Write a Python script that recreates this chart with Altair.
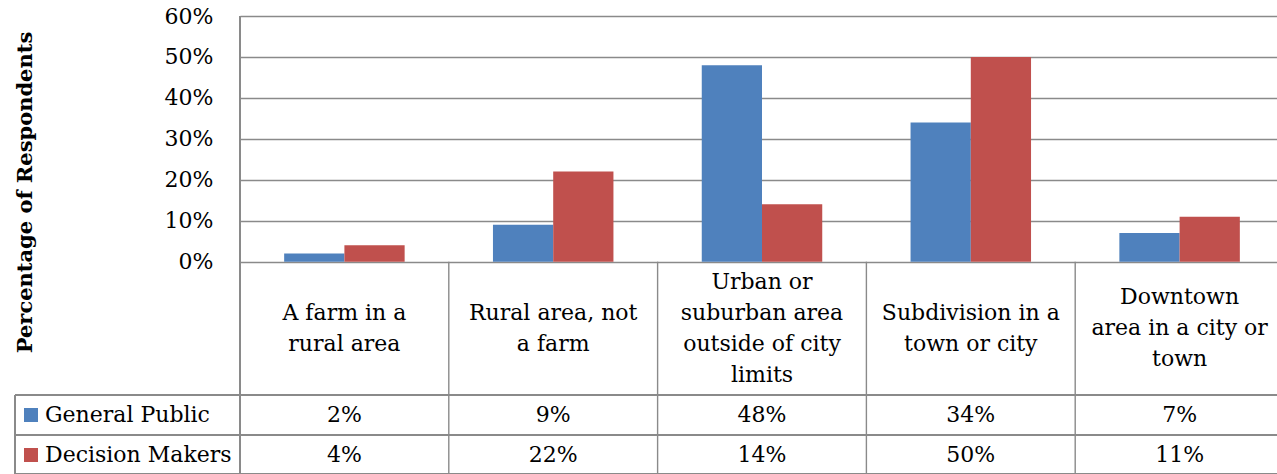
import altair as alt
import pandas as pd

# Chart values
categories = [
    "A farm in a\nrural area",
    "Rural area, not\na farm",
    "Urban or\nsuburban area\noutside of city\nlimits",
    "Subdivision in a\ntown or city",
    "Downtown\narea in a city or\ntown",
]
series = ["General Public", "Decision Makers"]
general_public = [0.02, 0.09, 0.48, 0.34, 0.07]
decision_makers = [0.04, 0.22, 0.14, 0.50, 0.11]
colors = ["#4F81BD", "#C0504D"]
y_ticks = [0.0, 0.1, 0.2, 0.3, 0.4, 0.5, 0.6]

FONT = "DejaVu Serif"
FS = 22
GRID = "#8a8a8a"

rows = []
for name, vals in zip(series, [general_public, decision_makers]):
    for cat, v in zip(categories, vals):
        rows.append({"category": cat, "series": name, "value": v})
df = pd.DataFrame(rows)
cats_df = pd.DataFrame({"category": categories})
legend_df = pd.DataFrame({"series": series})

# Pixel layout of the plot and the data table under it
W, H = 1037, 458
BAR_H = 245.7
LABEL_MID = 312
LINE_H = 31
ROW_TOP = [379, 419]
ROW_MID = [399, 439]

x_scale = alt.Scale(domain=categories, range=[0, 1044], paddingInner=0, paddingOuter=0)


def x_enc(**kw):
    return alt.X("category:N", scale=x_scale, sort=categories, axis=None, **kw)


color_enc = alt.Color("series:N", scale=alt.Scale(domain=series, range=colors), legend=None)

y_axis = alt.Axis(
    values=y_ticks, format=".0%", grid=True, gridColor=GRID, gridWidth=1.4,
    domain=False, ticks=False, labelPadding=27, labelFont=FONT, labelFontSize=FS,
    labelColor="black", title="Percentage of Respondents", titleFont=FONT,
    titleFontSize=21, titleFontWeight="bold", titleColor="black",
    titleX=-215, titleY=176, titleAngle=270, titleAlign="center", titleBaseline="middle",
)

bars = alt.Chart(df).mark_bar().encode(
    x=x_enc(),
    xOffset=alt.XOffset("series:N", sort=series,
                        scale=alt.Scale(domain=series, paddingOuter=0.733, paddingInner=0)),
    y=alt.Y("value:Q", scale=alt.Scale(domain=[0, 0.6], range=[BAR_H, 0]), axis=y_axis),
    color=color_enc,
)

# Table grid: column dividers, left edge and row separators
rule = dict(color=GRID, strokeWidth=1.4)
col_lines = alt.Chart(cats_df).mark_rule(**rule).encode(
    x=x_enc(bandPosition=0), y=alt.value(BAR_H), y2=alt.value(H),
)
left_line = alt.Chart(cats_df).mark_rule(**rule).encode(
    x=alt.value(0), y=alt.value(0), y2=alt.value(H)
)
legend_edge = alt.Chart(cats_df).mark_rule(**rule).encode(
    x=alt.value(-225), y=alt.value(ROW_TOP[0]), y2=alt.value(H)
)
row_lines = [
    alt.Chart(cats_df).mark_rule(**rule).encode(
        x=alt.value(-225), x2=alt.value(W), y=alt.value(yy)
    )
    for yy in ROW_TOP + [H]
]

# Category labels, each block centred vertically in its cell
cat_labels = []
for cat in categories:
    n = cat.count("\n") + 1
    cat_labels.append(
        alt.Chart(cats_df).transform_filter(alt.datum.category == cat).mark_text(
            font=FONT, fontSize=FS, color="black", lineBreak="\n", lineHeight=LINE_H,
            align="center", baseline="middle",
        ).encode(x=x_enc(), y=alt.value(LABEL_MID - (n - 1) * LINE_H / 2), text="category:N")
    )

value_layers = []
for i, name in enumerate(series):
    value_layers.append(
        alt.Chart(df).transform_filter(alt.datum.series == name).mark_text(
            font=FONT, fontSize=FS, color="black", align="center", baseline="middle",
        ).encode(x=x_enc(), y=alt.value(ROW_MID[i]),
                 text=alt.Text("value:Q", format=".0%"))
    )
    value_layers.append(
        alt.Chart(legend_df).transform_filter(alt.datum.series == name)
        .mark_square(size=196, opacity=1).encode(
            x=alt.value(-209), y=alt.value(ROW_MID[i]), color=color_enc)
    )
    value_layers.append(
        alt.Chart(legend_df).transform_filter(alt.datum.series == name).mark_text(
            font=FONT, fontSize=FS, color="black", align="left", baseline="middle",
        ).encode(x=alt.value(-195), y=alt.value(ROW_MID[i]), text="series:N")
    )

chart = alt.layer(
    bars, col_lines, left_line, legend_edge, *row_lines, *cat_labels, *value_layers
).properties(
    width=W, height=H,
    autosize=alt.AutoSizeParams(type="none"),
    padding={"left": 240, "top": 16, "right": 0, "bottom": 0},
    background="white",
).configure_view(stroke=None)

chart.save("out.html", embed_options={"renderer": "svg", "actions": False})
